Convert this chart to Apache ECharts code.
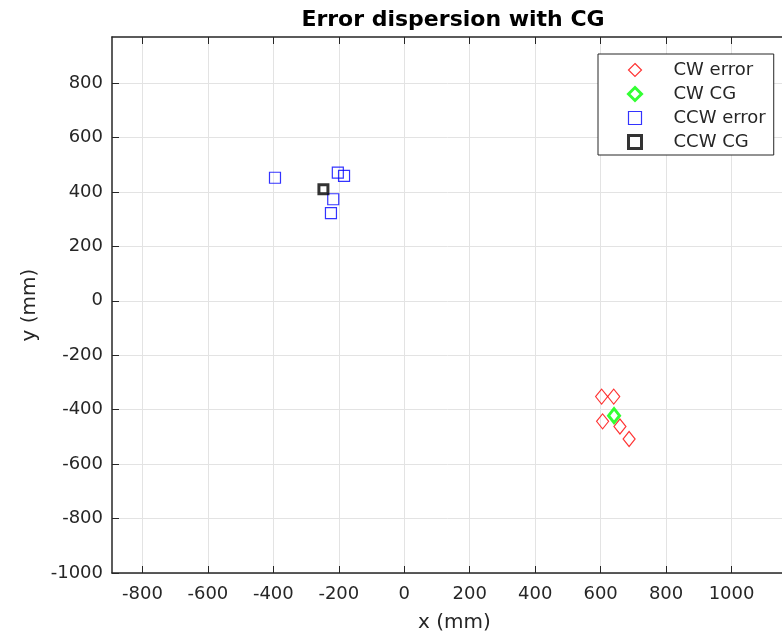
<!DOCTYPE html>
<html>
<head>
<meta charset="utf-8">
<script src="https://cdn.jsdelivr.net/npm/echarts@6/dist/echarts.min.js"></script>
<style>
html,body{margin:0;padding:0;background:#fff;}
#chart{width:782px;height:641px;}
</style>
</head>
<body>
<div id="chart"></div>
<script>
// ---- data (mm) ----
var cwErrorX = [603, 640, 606, 659, 687];
var cwErrorY = [-352, -352, -443, -462, -508];
var cwCgX = [641];
var cwCgY = [-422];
var ccwErrorX = [-395, -203, -184, -217, -224];
var ccwErrorY = [452, 471, 459, 373, 322];
var ccwCgX = [-247];
var ccwCgY = [410];
var xTicks = [-800, -600, -400, -200, 0, 200, 400, 600, 800, 1000, 1200];
var xLabels = [-800, -600, -400, -200, 0, 200, 400, 600, 800, 1000];
var yTicks = [-1000, -800, -600, -400, -200, 0, 200, 400, 600, 800];

function pairs(xs, ys) { return xs.map(function (x, i) { return [x, ys[i]]; }); }
function plain(v) { return String(v); }

var FONT = 'DejaVu Sans';
var chart = echarts.init(document.getElementById('chart'), null, {renderer: 'canvas'});

var axisCommon = {
  axisLine: {show: true, onZero: false, lineStyle: {color: '#262626', width: 1.5}},
  axisTick: {show: true, inside: true, length: 7, lineStyle: {color: '#262626', width: 1}},
  splitLine: {show: true, lineStyle: {color: '#e3e3e3', width: 1}},
  axisLabel: {color: '#262626', fontFamily: FONT, fontSize: 18, formatter: plain}
};

var option = {
  backgroundColor: '#fff',
  animation: false,
  title: {
    text: 'Error dispersion with CG',
    left: 448, top: 4, textAlign: 'center',
    textStyle: {fontFamily: FONT, fontWeight: 'bold', fontSize: 22, color: '#000'}
  },
  legend: {
    orient: 'vertical',
    left: 598, top: 54,
    padding: [7, 8, 4, 29],
    itemWidth: 13, itemHeight: 13, itemGap: 6,
    symbolKeepAspect: true,
    borderColor: '#262626', borderWidth: 1,
    backgroundColor: '#fff',
    textStyle: {fontFamily: FONT, fontSize: 18, color: '#262626', lineHeight: 18, padding: [0, 0, 0, 27]},
    data: [
      {name: 'CW error', itemStyle: {borderWidth: 1.2}},
      {name: 'CW CG', itemStyle: {borderWidth: 3}},
      {name: 'CCW error', itemStyle: {borderWidth: 1.2}},
      {name: 'CCW CG', itemStyle: {borderWidth: 3}}
    ]
  },
  grid: {left: 112, right: -15, top: 37, bottom: 68, containLabel: false, outerBoundsMode: 'none'},
  xAxis: [
    Object.assign({}, axisCommon, {
      type: 'value', min: -893, max: 1200,
      axisTick: Object.assign({}, axisCommon.axisTick, {customValues: xTicks}),
      axisLabel: Object.assign({}, axisCommon.axisLabel, {customValues: xLabels, margin: 12}),
      name: 'x (mm)', nameLocation: 'middle', nameGap: 40,
      nameTextStyle: {fontFamily: FONT, fontSize: 20, color: '#262626'}
    }),
    {
      type: 'value', position: 'top', min: -893, max: 1200,
      axisLine: {show: true, onZero: false, lineStyle: {color: '#262626', width: 1.5}},
      axisTick: {show: true, inside: true, length: 7, customValues: xTicks, lineStyle: {color: '#262626'}},
      axisLabel: {show: false},
      splitLine: {show: false}
    }
  ],
  yAxis: Object.assign({}, axisCommon, {
    type: 'value', min: -1000, max: 969,
    axisTick: Object.assign({}, axisCommon.axisTick, {customValues: yTicks}),
    axisLabel: Object.assign({}, axisCommon.axisLabel, {customValues: yTicks, margin: 9}),
    name: 'y (mm)', nameLocation: 'middle', nameGap: 72,
    nameTextStyle: {fontFamily: FONT, fontSize: 20, color: '#262626'}
  }),
  series: [
    {
      name: 'CW error', type: 'scatter', data: pairs(cwErrorX, cwErrorY),
      symbol: 'diamond', symbolSize: [12, 15],
      itemStyle: {color: 'rgba(0,0,0,0)', borderColor: '#ff0000', borderWidth: 1.2}
    },
    {
      name: 'CW CG', type: 'scatter', data: pairs(cwCgX, cwCgY),
      symbol: 'diamond', symbolSize: [11, 14],
      itemStyle: {color: 'rgba(0,0,0,0)', borderColor: '#00ff00', borderWidth: 3}
    },
    {
      name: 'CCW error', type: 'scatter', data: pairs(ccwErrorX, ccwErrorY),
      symbol: 'rect', symbolSize: 11,
      itemStyle: {color: 'rgba(0,0,0,0)', borderColor: '#0000ff', borderWidth: 1.2}
    },
    {
      name: 'CCW CG', type: 'scatter', data: pairs(ccwCgX, ccwCgY),
      symbol: 'rect', symbolSize: 9,
      itemStyle: {color: 'rgba(0,0,0,0)', borderColor: '#000000', borderWidth: 3}
    }
  ]
};
chart.setOption(option);
</script>
</body>
</html>
